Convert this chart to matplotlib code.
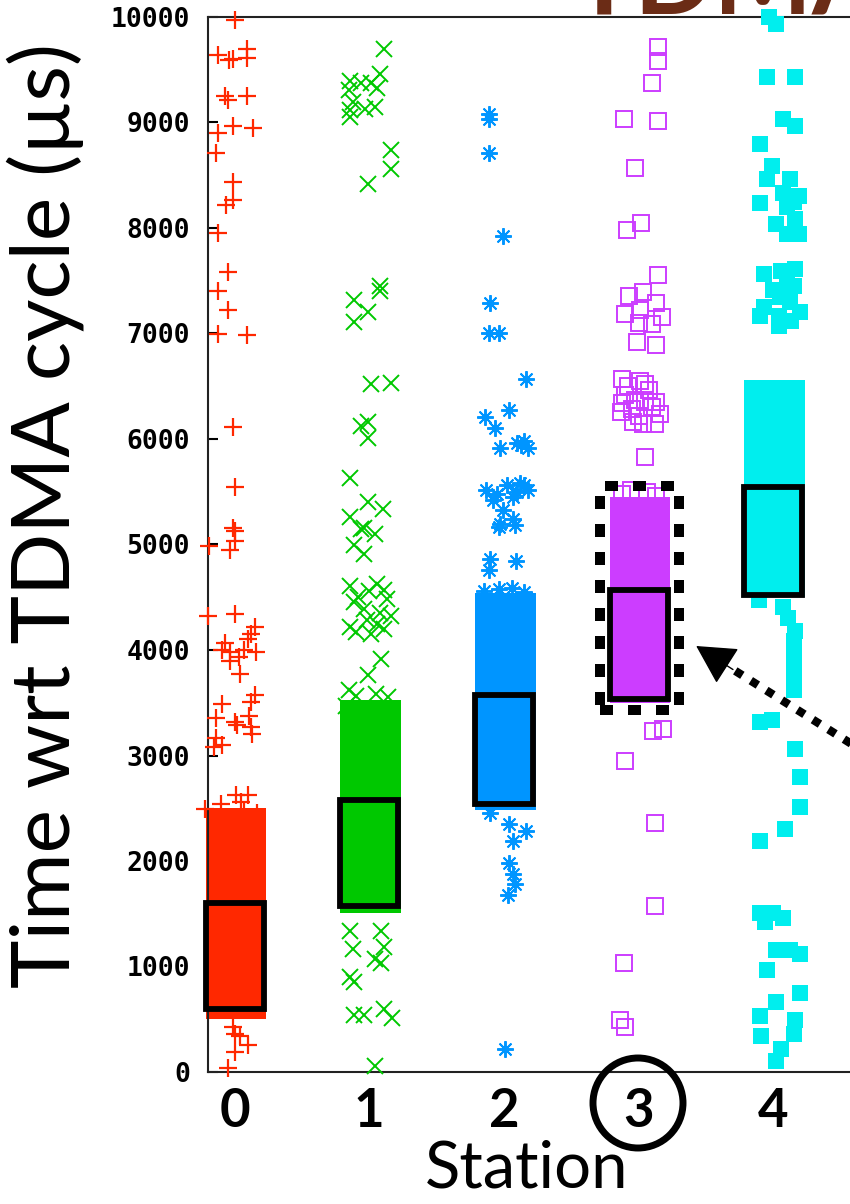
import numpy as np
import matplotlib.pyplot as plt
import matplotlib.patches as mpatches

# stations on the x axis
stations = [0, 1, 2, 3, 4]
station_labels = ['0', '1', '2', '3', '4']

# slot of each station inside the TDMA cycle (boxes), in us
box_lo = [600, 1570, 2545, 3540, 4525]
box_hi = [1600, 2580, 3570, 4565, 5545]

# where the bulk of the packets sit (dense clouds), in us
core_lo = [500, 1510, 2480, 3500, 4500]
core_hi = [2500, 3530, 4540, 5450, 6560]

# scattered packets: jitter offset from the station and time in us
st0_off = [0.00, -0.12, -0.04, -0.01, 0.09, 0.09, -0.07, -0.05, 0.09, -0.01, -0.12, 0.14, -0.14, -0.01,
           -0.01, -0.06, -0.12, -0.05, -0.12, -0.05, -0.12, 0.09, -0.01, 0.00, -0.01, 0.00, 0.00, -0.03,
           -0.19, 0.00, -0.20, 0.12, 0.15, 0.10, -0.07, -0.09, -0.03, 0.07, 0.16, 0.03, -0.03, 0.04,
           -0.09, 0.15, 0.12, -0.14, 0.00, 0.02, 0.11, 0.12, 0.13, -0.14, -0.09, -0.15, 0.01, 0.10,
           -0.22, 0.07, 0.17, -0.10, 0.05, 0.00, 0.04, 0.10, 0.00, -0.05, -0.01]
st0_val = [9972, 9640, 9592, 9600, 9700, 9610, 9250, 9213, 9250, 8967, 8900, 8947, 8710, 8436,
           8265, 8218, 7955, 7583, 7400, 7225, 6998, 6985, 6115, 5545, 5158, 5128, 5033, 4948,
           4986, 4341, 4322, 4152, 4218, 4100, 4066, 4000, 3981, 4000, 3981, 3934, 3896, 3773,
           3488, 3573, 3507, 3355, 3318, 3289, 3374, 3270, 3204, 3166, 3100, 3081, 2626, 2626,
           2493, 2474, 2455, 2540, 2560, 360, 341, 256, 190, 38, 427]

st1_off = [0.11, 0.08, -0.14, -0.06, 0.01, 0.06, -0.15, -0.12, 0.04, -0.14, -0.03, -0.14, 0.16, 0.16,
           -0.01, 0.08, 0.08, -0.11, -0.01, -0.11, 0.01, 0.16, -0.01, -0.01, -0.06, -0.14, -0.01, 0.10,
           -0.14, -0.04, -0.06, 0.04, -0.11, -0.04, -0.14, 0.06, 0.11, -0.11, -0.04, 0.16, 0.06, -0.14,
           0.11, 0.01, 0.09, -0.01, -0.15, -0.17, -0.08, 0.00, 0.13, -0.02, 0.08, -0.10,
           -0.10, 0.05, 0.14, -0.14, -0.12, 0.09, 0.11, 0.04, 0.09, -0.14, -0.11, -0.11, -0.04, 0.11,
           0.17, 0.04]
st1_val = [9700, 9460, 9393, 9374, 9374, 9327, 9308, 9194, 9147, 9118, 9128, 9052, 8739, 8559,
           8417, 7450, 7400, 7318, 7204, 7109, 6521, 6531, 6161, 6010, 6123, 5630, 5403, 5337,
           5261, 5157, 5147, 5100, 4995, 4910, 4607, 4626, 4569, 4455, 4389, 4322, 4246, 4218,
           4199, 4152, 3915, 3763, 3621, 3469, 4500, 4560, 4480, 4280, 4350, 4170,
           3560, 3580, 3550, 1336, 1166, 1336, 1185, 1071, 1033, 900, 853, 540, 540, 597,
           512, 57]

st2_off = [-0.11, -0.11, -0.11, -0.01, -0.10, -0.11, -0.04, 0.16, -0.14, 0.04, -0.07, -0.03, 0.13, 0.18,
           -0.13, 0.12, 0.18, -0.08, 0.07, -0.01, -0.03, 0.07, -0.04, 0.08, -0.10, -0.11, 0.09,
           0.02, 0.10, -0.05, 0.15, 0.10, 0.15, -0.15, -0.04, 0.06, 0.15,
           0.04, 0.16, 0.07, 0.04, 0.07, 0.08, 0.03, -0.10, 0.01]
st2_val = [9081, 9033, 8711, 7924, 7289, 7005, 7005, 6569, 6208, 6275, 6104, 5915, 5943, 5915,
           5517, 5583, 5517, 5422, 5450, 5327, 5194, 5242, 5166, 5185, 4863, 4758, 4843,
           5560, 5500, 5480, 5560, 5960, 5980, 4560, 4580, 4590, 4550,
           2351, 2284, 2190, 1981, 1877, 1782, 1678, 2455, 218]

st3_off = [0.14, 0.14, 0.10, -0.11, 0.14, -0.03, -0.09, 0.02, 0.14, -0.07, 0.03, -0.10, 0.13, 0.01,
           0.17, 0.00, 0.10, -0.01, 0.13, -0.12, 0.01, 0.08, 0.13, -0.12, -0.03, 0.05, -0.13, 0.16,
           -0.04, 0.03, 0.12, 0.05, -0.08, 0.05, -0.10, 0.10, -0.05, 0.00, -0.12, -0.06, 0.06, 0.13,
           0.11, 0.18, -0.10, 0.12, 0.12, -0.11, -0.14, -0.10]
st3_val = [9716, 9583, 9374, 9033, 9014, 8569, 7981, 8047, 7555, 7355, 7393, 7185, 7289, 7223,
           7157, 7100, 7090, 6919, 6891, 6569, 6550, 6464, 6351, 6341, 6370, 6351, 6256, 6237,
           6161, 6142, 6142, 5829, 6500, 6520, 6420, 6300, 6280, 6220, 5480, 5520, 5500, 5460,
           3232, 3251, 2948, 2360, 1573, 1033, 493, 427]

st4_off = [-0.03, 0.02, -0.05, 0.16, 0.07, 0.16, -0.10, -0.01, -0.05, 0.12, 0.07, 0.19, -0.10, 0.16,
           0.02, 0.10, 0.19, -0.07, 0.06, 0.16, 0.15, 0.00, -0.07, -0.10, 0.04, 0.20, 0.04, 0.13,
           0.10, 0.05, 0.12, 0.10, 0.15,
           -0.11, 0.07, 0.11, 0.16, 0.15, 0.15, 0.15, 0.15, 0.15, 0.15, 0.15,
           -0.10, -0.01, 0.16, 0.20, 0.20, 0.09, -0.10,
           -0.10, 0.00, 0.07, -0.06, 0.02, 0.20, 0.12, -0.05, 0.20, 0.02, -0.10, 0.16, -0.09, 0.15,
           0.06, 0.02]
st4_val = [10000, 9934, 9431, 9431, 9033, 8967, 8796, 8588, 8464, 8464, 8332, 8303, 8237, 8085,
           8038, 7943, 7943, 7564, 7593, 7611, 7450, 7412, 7251, 7166, 7166, 7204, 7071, 7118,
           7500, 7350, 7300, 8200, 8250,
           4474, 4408, 4303, 4180, 4090, 4000, 3915, 3830, 3744, 3680, 3621,
           3318, 3336, 3062, 2796, 2512, 2303, 2190,
           1507, 1507, 1460, 1422, 1156, 1118, 1156, 967, 749, 664, 531, 493, 341, 360,
           218, 104]

offsets = [st0_off, st1_off, st2_off, st3_off, st4_off]
values = [st0_val, st1_val, st2_val, st3_val, st4_val]

colors = ['#ff2800', '#00c800', '#0095ff', '#cc3dff', '#00eeee']
markers = ['+', 'x', (8, 2, 0), 's', 's']

fig = plt.figure(figsize=(8.5, 12.04), dpi=100)
ax = fig.add_axes([208/850, 132/1204, 692/850, 1055/1204])

for i, st in enumerate(stations):
    # dense part of the cloud
    ax.bar(st + 0.01, core_hi[i] - core_lo[i], bottom=core_lo[i], width=0.45,
           color=colors[i], linewidth=0, zorder=2, clip_on=False)
    xs = np.array(offsets[i]) + st
    if i == 3:
        ax.plot(xs, values[i], linestyle='none', marker='s', markersize=11,
                markerfacecolor='none', markeredgecolor=colors[i], markeredgewidth=1.4,
                zorder=3, clip_on=False)
    elif i == 4:
        ax.plot(xs, values[i], linestyle='none', marker='s', markersize=11.5,
                markerfacecolor=colors[i], markeredgecolor=colors[i], markeredgewidth=0,
                zorder=3, clip_on=False)
    elif i == 0:
        ax.plot(xs, values[i], linestyle='none', marker='+', markersize=13,
                color=colors[i], markeredgewidth=1.6, zorder=3, clip_on=False)
    else:
        ax.plot(xs, values[i], linestyle='none', marker=markers[i], markersize=12,
                color=colors[i], markeredgewidth=1.4, zorder=3, clip_on=False)
    # slot of the station
    ax.bar(st, box_hi[i] - box_lo[i], bottom=box_lo[i], width=0.43,
           color=colors[i], edgecolor='black', linewidth=4.2, zorder=4, clip_on=False)

ax.set_xlim(-0.197, 4.94)
ax.set_ylim(0, 10000)

for pos in ['left', 'top', 'bottom']:
    ax.spines[pos].set_linewidth(1.5)
    ax.spines[pos].set_color('#222222')
ax.spines['right'].set_visible(False)

ax.set_yticks(range(0, 10001, 1000))
ax.tick_params(axis='y', direction='in', length=7, width=1.5, pad=13)
for lab in ax.get_yticklabels():
    lab.set_family('DejaVu Sans Mono')
    lab.set_fontweight('bold')
    lab.set_fontsize(19)

ax.set_xticks(stations)
ax.set_xticklabels(station_labels, family=['Lato', 'DejaVu Sans'], fontweight='bold', fontsize=38)
ax.tick_params(axis='x', length=0, pad=11)

fig.text(45/850, 1 - 515/1204, 'Time wrt TDMA cycle (\u00b5s)', rotation=90,
         fontsize=59, family=['Lato', 'DejaVu Sans'], ha='center', va='center')
fig.text(527/850, 1 - 1187/1204, 'Station', fontsize=47,
         family=['Lato', 'DejaVu Sans'], ha='center', va='baseline')

# title, mostly off the top of the page
fig.text(572/850, 1 - 13/1204, 'TDMA', fontsize=75, fontweight='bold',
         family=['Lato', 'DejaVu Sans'], color='#6b2c16', ha='left', va='baseline')

# highlight station 3
circ = mpatches.Ellipse((638/850, 1 - 1103/1204), 90/850, 90/1204, transform=fig.transFigure,
                        fill=False, edgecolor='black', linewidth=5)
fig.add_artist(circ)

rect = mpatches.Rectangle((2.71, 3431), 0.59, 2124, fill=False, edgecolor='black',
                          linewidth=7.2, linestyle=(0, (1.3, 1.5)), capstyle='butt',
                          zorder=5, clip_on=False)
ax.add_patch(rect)

ax.plot([4.794, 3.62], [2938, 3880], color='black', linewidth=6, linestyle=(0, (1, 1.2)),
        dash_capstyle='butt', zorder=5, clip_on=False)
ax.annotate('', xy=(3.427, 4038), xytext=(3.70, 3815),
            arrowprops=dict(arrowstyle='-|>,head_length=0.5,head_width=0.27', color='black',
                            lw=1, shrinkA=0, shrinkB=0, mutation_scale=50),
            zorder=6, annotation_clip=False)

plt.savefig('out.png', dpi=100)
